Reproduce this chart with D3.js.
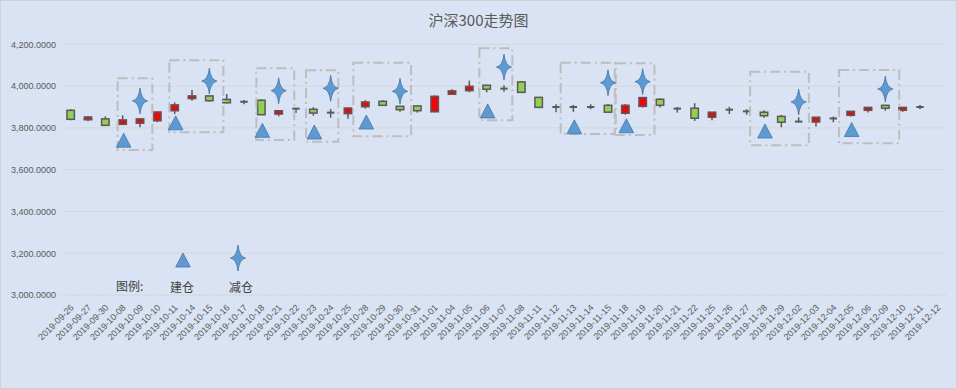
<!DOCTYPE html>
<html>
<head>
<meta charset="utf-8">
<script src="https://cdn.jsdelivr.net/npm/d3@7"></script>
<style>
  body { margin: 0; background: #fff; }
  svg { display: block; }
</style>
</head>
<body>
<svg id="chart" width="957" height="389"></svg>
<script>
// trading days on the x axis
var dates = ['2019-09-26','2019-09-27','2019-09-30','2019-10-08','2019-10-09','2019-10-10','2019-10-11',
  '2019-10-14','2019-10-15','2019-10-16','2019-10-17','2019-10-18','2019-10-21','2019-10-22','2019-10-23',
  '2019-10-24','2019-10-25','2019-10-28','2019-10-29','2019-10-30','2019-10-31','2019-11-01','2019-11-04',
  '2019-11-05','2019-11-06','2019-11-07','2019-11-08','2019-11-11','2019-11-12','2019-11-13','2019-11-14',
  '2019-11-15','2019-11-18','2019-11-19','2019-11-20','2019-11-21','2019-11-22','2019-11-25','2019-11-26',
  '2019-11-27','2019-11-28','2019-11-29','2019-12-02','2019-12-03','2019-12-04','2019-12-05','2019-12-06',
  '2019-12-09','2019-12-10','2019-12-11','2019-12-12']

// OHLC (12-12 has no candle)
var openV  = [3884,3839,3843,3817,3822,3834,3882,3940,3953,3936,3925,3932,3866,3892,3889,3873,3868,3901,3927,3903,3905,3877,3961,3978,4004,3988,4020,3946,3900,3900,3900,3908,3870,3903,3937,3892,3894,3851,3887,3879,3875,3855,3830,3828,3845,3860,3884,3908,3884,3900,null]
var highV  = [3890,3857,3855,3860,3843,3878,3922,3981,3953,3962,3933,3937,3883,3892,3899,3890,3895,3932,3933,3903,3905,3956,3985,4026,4004,4004,4024,3946,3913,3910,3913,3914,3914,3945,3942,3900,3918,3875,3901,3889,3884,3862,3851,3851,3854,3879,3898,3908,3898,3910,null]
var lowV   = [3836,3832,3812,3817,3803,3827,3866,3930,3925,3918,3913,3863,3855,3871,3858,3849,3844,3892,3908,3877,3873,3875,3961,3970,3970,3973,3970,3895,3875,3877,3889,3875,3863,3897,3897,3873,3833,3836,3866,3863,3849,3803,3830,3807,3827,3854,3873,3882,3877,3889,null]
var closeV = [3841,3852,3812,3838,3843,3876,3910,3953,3930,3920,3925,3863,3882,3892,3871,3873,3895,3924,3908,3887,3882,3951,3977,3999,3985,3988,3970,3898,3900,3900,3900,3875,3908,3945,3908,3892,3846,3875,3887,3879,3858,3827,3830,3851,3845,3879,3898,3894,3898,3900,null]

// 建仓 (buy) and 减仓 (sell) markers
var buyDates  = ['2019-10-08','2019-10-11','2019-10-18','2019-10-23','2019-10-28','2019-11-06','2019-11-13','2019-11-18','2019-11-28','2019-12-05']
var buyValues = [3741,3824,3788,3780,3828,3881,3805,3810,3785,3792]
var sellDates  = ['2019-10-09','2019-10-15','2019-10-21','2019-10-24','2019-10-30','2019-11-07','2019-11-15','2019-11-19','2019-12-02','2019-12-09']
var sellValues = [3929,4024,3978,3989,3975,4091,4016,4021,3924,3986]

// dashed boxes round each trade, in category-index units and index values
var boxFrom   = [2.71,5.69,10.71,13.58,16.31,23.58,28.27,31.45,39.2,44.33]
var boxTo     = [4.71,8.81,12.9,15.44,19.64,25.48,31.39,33.68,42.59,47.8]
var boxTop    = [4037,4124,4085,4076,4112,4181,4112,4109,4069,4077]
var boxBottom = [3694,3779,3742,3733,3760,3837,3771,3766,3717,3726]

var yTicks = [3000,3200,3400,3600,3800,4000,4200]

function main(){
  var svg = d3.select('svg#chart')
  var W = 957, H = 389
  var left = 62, right = 946, top = 44.3, bottom = 295

  svg.append('rect')
    .attr('x', 0.5).attr('y', 0.5).attr('width', W - 1).attr('height', H - 1)
    .style('fill', '#DAE3F3').style('stroke', '#D0D0D0')

  svg.append('text')
    .attr('x', W / 2).attr('y', 26)
    .attr('text-anchor', 'middle')
    .style('font-family', '"Noto Sans CJK SC", "Noto Sans", sans-serif')
    .style('font-size', '15px')
    .style('fill', '#595959')
    .text('沪深300走势图')

  var x = d3.scaleBand().domain(dates).range([left, right]).padding(0)
  var y = d3.scaleLinear().domain([3000, 4200]).range([bottom, top])
  var step = x.step()
  var cx = function(d){ return x(d) + step / 2 }
  var ix = function(i){ return x(dates[0]) + step / 2 + i * step }

  // gridlines
  svg.append('g').selectAll('line')
    .data(yTicks)
    .enter().append('line')
    .attr('x1', left).attr('x2', right)
    .attr('y1', function(d){ return y(d) }).attr('y2', function(d){ return y(d) })
    .style('stroke', '#D6D6D6').style('stroke-width', 1)

  var yAxis = d3.axisLeft(y).tickValues(yTicks).tickSize(0).tickPadding(0)
    .tickFormat(function(d){ return d3.format(',.4f')(d) })
  var gy = svg.append('g').attr('transform', 'translate(56,0)').call(yAxis)
  gy.select('.domain').remove()
  gy.selectAll('text')
    .style('font-family', '"Liberation Sans", Arial, sans-serif')
    .style('font-size', '9px').style('fill', '#595959')

  // x axis: ticks between categories
  var gx = svg.append('g')
  gx.selectAll('.tick')
    .data(d3.range(dates.length + 1))
    .enter().append('line')
    .attr('x1', function(i){ return left + i * step }).attr('x2', function(i){ return left + i * step })
    .attr('y1', bottom).attr('y2', bottom + 3)
    .style('stroke', '#D6D6D6')
  gx.selectAll('text')
    .data(dates)
    .enter().append('text')
    .attr('transform', function(d){ return 'translate(' + (cx(d) + 1.5) + ',' + (bottom + 11) + ') rotate(-45)' })
    .attr('text-anchor', 'end')
    .attr('dy', '0.35em')
    .style('font-family', '"Liberation Sans", Arial, sans-serif')
    .style('font-size', '9px').style('fill', '#595959')
    .text(function(d){ return d })

  // candles
  var candles = dates.map(function(d, i){
    return {date: d, o: openV[i], h: highV[i], l: lowV[i], c: closeV[i]}
  }).filter(function(e){ return e.o !== null })

  var bodyW = step * 0.43
  var g = svg.append('g')
  g.selectAll('.wick')
    .data(candles)
    .enter().append('line')
    .attr('x1', function(e){ return cx(e.date) }).attr('x2', function(e){ return cx(e.date) })
    .attr('y1', function(e){ return y(e.h) }).attr('y2', function(e){ return y(e.l) })
    .style('stroke', '#595959').style('stroke-width', 1.5)

  g.selectAll('.body')
    .data(candles.filter(function(e){ return e.o !== e.c }))
    .enter().append('rect')
    .attr('x', function(e){ return cx(e.date) - bodyW / 2 })
    .attr('width', bodyW)
    .attr('y', function(e){ return y(Math.max(e.o, e.c)) })
    .attr('height', function(e){ return Math.abs(y(e.o) - y(e.c)) })
    .style('fill', function(e){ return e.c > e.o ? '#FF0000' : '#92D050' })
    .style('stroke', '#595959').style('stroke-width', 1.5)

  g.selectAll('.doji')
    .data(candles.filter(function(e){ return e.o === e.c }))
    .enter().append('line')
    .attr('x1', function(e){ return cx(e.date) - bodyW / 2 }).attr('x2', function(e){ return cx(e.date) + bodyW / 2 })
    .attr('y1', function(e){ return y(e.o) }).attr('y2', function(e){ return y(e.o) })
    .style('stroke', '#595959').style('stroke-width', 2)

  // dashed boxes
  svg.append('g').selectAll('rect')
    .data(boxFrom)
    .enter().append('rect')
    .attr('x', function(d){ return ix(d) })
    .attr('width', function(d, i){ return ix(boxTo[i]) - ix(d) })
    .attr('y', function(d, i){ return y(boxTop[i]) })
    .attr('height', function(d, i){ return y(boxBottom[i]) - y(boxTop[i]) })
    .style('fill', 'none').style('stroke', '#BDBDBD').style('stroke-width', 2)
    .style('stroke-dasharray', '10,4,2,4')

  var tri = 'M0,-7L7.3,7L-7.3,7Z'
  var star = 'M0,-13Q1.2,-1.2 7.6,0Q1.2,1.2 0,13Q-1.2,1.2 -7.6,0Q-1.2,-1.2 0,-13Z'

  svg.append('g').selectAll('path')
    .data(buyDates)
    .enter().append('path')
    .attr('d', tri)
    .attr('transform', function(d, i){ return 'translate(' + (cx(d) + 1) + ',' + y(buyValues[i]) + ')' })
    .style('fill', '#5B9BD5').style('stroke', '#41719C').style('stroke-width', 0.75)

  svg.append('g').selectAll('path')
    .data(sellDates)
    .enter().append('path')
    .attr('d', star)
    .attr('transform', function(d, i){ return 'translate(' + cx(d) + ',' + y(sellValues[i]) + ')' })
    .style('fill', '#5B9BD5').style('stroke', '#41719C').style('stroke-width', 0.75)

  // legend
  var lg = svg.append('g')
    .style('font-family', '"Noto Sans CJK SC", sans-serif')
    .style('font-size', '12px').style('fill', '#404040')
  lg.append('text').attr('x', 116).attr('y', 291).text('图例:')
  lg.append('text').attr('x', 170).attr('y', 292).text('建仓')
  lg.append('text').attr('x', 229).attr('y', 292).text('减仓')
  lg.append('path').attr('d', tri).attr('transform', 'translate(183,260)')
    .style('fill', '#5B9BD5').style('stroke', '#41719C').style('stroke-width', 0.75)
  lg.append('path').attr('d', star).attr('transform', 'translate(238,258)')
    .style('fill', '#5B9BD5').style('stroke', '#41719C').style('stroke-width', 0.75)
}

main()
</script>
</body>
</html>
